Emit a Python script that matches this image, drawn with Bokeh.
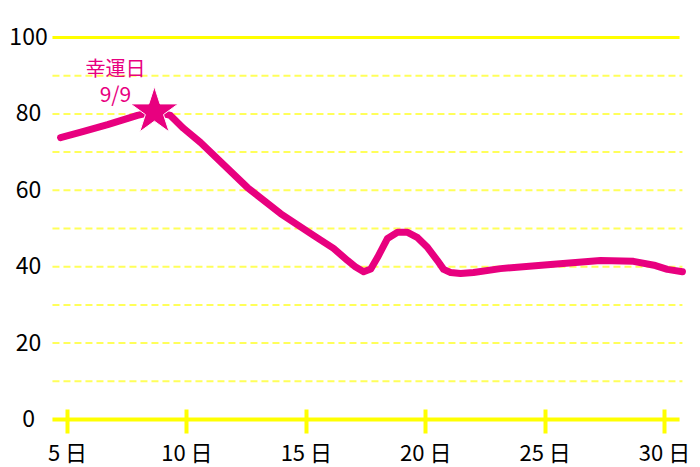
from bokeh.plotting import figure
from bokeh.models import Range1d, FixedTicker
from bokeh.core.properties import value
from bokeh.embed import file_html
from bokeh.resources import INLINE

# ---- data ----
days = [4.71, 5.60, 6.68, 7.93, 8.64, 9.31, 9.86, 10.57, 12.54, 13.92, 15.30,
        16.14, 16.73, 17.05, 17.40, 17.70, 17.98, 18.40, 18.82, 19.24, 19.66,
        20.08, 20.49, 20.75, 21.04, 21.46, 22.00, 23.13, 25.23, 27.32, 28.70,
        29.62, 30.12, 30.75]
values = [73.8, 75.3, 77.2, 79.6, 80.6, 79.6, 76.2, 72.5, 60.7, 53.9, 48.2,
          44.8, 41.6, 40.0, 38.7, 39.4, 42.4, 47.4, 49.0, 49.0, 47.6,
          45.0, 41.6, 39.3, 38.5, 38.2, 38.5, 39.5, 40.6, 41.6, 41.4,
          40.3, 39.3, 38.7]

lucky_day = [8.64]
lucky_value = [80.6]
lucky_text = ["幸運日", "9/9"]

x_ticks = [5, 10, 15, 20, 25, 30]
x_labels = ["5 日", "10 日", "15 日", "20 日", "25 日", "30 日"]
y_ticks = [0, 20, 40, 60, 80, 100]
y_labels = ["0", "20", "40", "60", "80", "100"]
dash_levels = [10, 20, 30, 40, 50, 60, 70, 80, 90]
solid_levels = [0, 100]

# ---- styling / layout ----
PINK = "#e8007f"
YELLOW = "#ffff00"
LIGHT_YELLOW = "#ffff5a"
FONT = "Noto Sans CJK JP"
GRID_X0, GRID_X1 = 4.37, 30.75
SOLID_X1 = 30.63
YLAB_X = 3.367

p = figure(frame_width=700, frame_height=433,
           x_range=Range1d(2.194, 31.507), y_range=Range1d(-3.665, 109.69),
           output_backend="svg", toolbar_location=None,
           min_border_left=0, min_border_right=0, min_border_top=0,
           min_border_bottom=0, outline_line_color=None,
           background_fill_color="white", border_fill_color="white",
           y_axis_location=None)
p.xgrid.visible = False
p.ygrid.visible = False

# dashed grid lines
p.segment(x0=[GRID_X0] * len(dash_levels), y0=dash_levels,
          x1=[GRID_X1] * len(dash_levels), y1=dash_levels,
          line_color=LIGHT_YELLOW, line_width=2, line_dash="7 4")
# solid top line and axis line
p.segment(x0=[GRID_X0] * 2, y0=solid_levels, x1=[SOLID_X1] * 2, y1=solid_levels,
          line_color=YELLOW, line_width=[4, 3])

# y labels
p.text(x=[YLAB_X] * len(y_ticks), y=y_ticks, text=y_labels,
       text_font=value(FONT), text_font_size="23px", text_color="black",
       text_align="center", text_baseline="middle", y_offset=-1)

# x axis (ticks rise from the frame bottom through the axis line)
ax = p.xaxis[0]
ax.ticker = FixedTicker(ticks=x_ticks)
ax.major_label_overrides = {t: lab for t, lab in zip(x_ticks, x_labels)}
ax.axis_line_color = None
ax.major_tick_line_color = YELLOW
ax.major_tick_line_width = 4
ax.major_tick_in = 24
ax.major_tick_out = 0
ax.minor_tick_line_color = None
ax.major_label_text_font = FONT
ax.major_label_text_font_size = "22px"
ax.major_label_text_color = "black"
ax.major_label_standoff = 1

# main line
p.line(days, values, line_color=PINK, line_width=7, line_cap="round",
       line_join="round")

# star
p.scatter(lucky_day, lucky_value, marker="star", size=50, fill_color=PINK,
          line_color="white", line_width=1)

# label
p.text(x=lucky_day, y=lucky_value, text=[lucky_text[0]], x_offset=-39, y_offset=-44,
       text_font=value(FONT), text_font_size="20px", text_color=PINK,
       text_align="center", text_baseline="middle")
p.text(x=lucky_day, y=lucky_value, text=[lucky_text[1]], x_offset=-39, y_offset=-19,
       text_font=value(FONT), text_font_size="21px", text_color=PINK,
       text_align="center", text_baseline="middle")

open("out.html", "w").write(file_html(p, INLINE))
